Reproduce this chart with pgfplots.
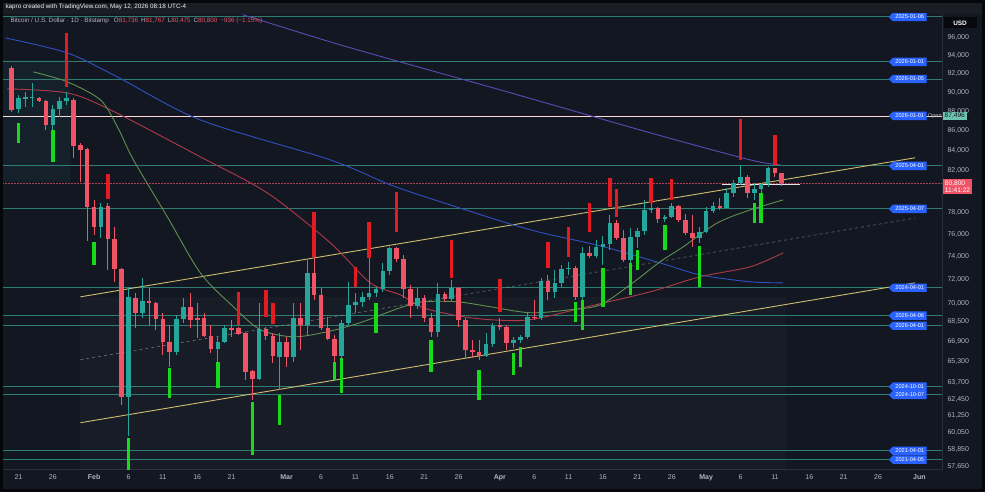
\documentclass[border=0pt]{standalone}
\usepackage{pgfplots}
\pgfplotsset{compat=1.18}
\usepackage{pgfplotstable}
\usepackage{fontspec}
\setmainfont{Liberation Sans}
\usetikzlibrary{shapes.symbols}

\definecolor{bg}{HTML}{131722}
\definecolor{hdr}{HTML}{1A1D24}
\definecolor{up}{HTML}{26A69A}
\definecolor{dn}{HTML}{EF5365}
\definecolor{mkred}{HTML}{E31B23}
\definecolor{mkgreen}{HTML}{1AD81A}
\definecolor{lvl}{HTML}{2E7D72}
\definecolor{chan}{HTML}{CDBE70}
\definecolor{mablue}{HTML}{3050C0}
\definecolor{mapurple}{HTML}{5B4BB5}
\definecolor{mared}{HTML}{B03A4A}
\definecolor{magreen}{HTML}{5E9150}
\definecolor{txt}{HTML}{B2B5BE}
\definecolor{tagblue}{HTML}{2962FF}
\definecolor{mint}{HTML}{6CC5B0}
\definecolor{axc}{HTML}{2A2E39}

\pgfplotstableread{
d O H L C
20 88230 89710 87820 89390
21 89300 90040 88440 89450
22 89390 91000 88440 89500
25 86570 88650 86060 88230
26 88230 89500 87400 89070
27 89070 90050 88650 89400
32 76680 78900 75690 78530
36 62650 71400 59810 70560
38 69230 72170 68820 70220
43 66090 69070 65860 68740
44 68740 70470 68420 69730
49 66330 67280 65310 66880
50 66880 68260 66800 68010
55 64010 70060 63930 67930
58 65710 67600 63180 66880
60 65710 70060 65310 68820
62 68260 73730 67440 72600
67 65780 68660 65630 68420
68 68420 71830 68260 69890
69 69890 70900 69230 70140
70 70140 70980 69730 70560
71 70560 73900 70310 70900
72 70900 71400 70560 71230
73 71230 73470 70980 72770
74 72770 74880 72430 74790
78 69810 71320 69560 70480
81 67690 71740 67280 70810
83 70390 72000 70140 71320
88 65780 67600 65710 66720
89 66720 68420 66480 68170
92 66800 67280 66410 67040
93 67040 67440 66800 67280
94 67280 69230 67120 68910
96 68820 72170 68660 71910
98 70980 72860 70480 71740
99 71740 73300 71400 72950
100 72950 73560 72430 73030
102 70560 74880 70310 74350
104 74080 75510 73910 74880
105 74880 75870 73300 75150
106 75150 77780 74610 77040
109 73730 76590 73470 75780
110 75780 76590 74790 76320
111 76320 79180 75960 78250
112 78250 79180 77970 78440
114 77410 77780 77140 77600
115 77600 78900 77500 78620
119 75690 76680 75240 76230
120 76230 78530 76140 78160
121 78160 78990 77970 78620
123 78440 80320 78440 79850
124 79850 81090 79460 80800
125 80800 82550 80610 81380
127 79850 80800 79180 80230
128 80230 80800 79850 80700
129 80700 82350 80420 82250
}\upcandles

\pgfplotstableread{
d O H L C
19 92640 92860 87920 88130
23 89420 89500 88970 89070
24 89070 89180 86060 86570
28 89180 89390 83240 84430
29 84540 84740 80900 84030
30 84130 84230 75420 78530
31 78530 79180 75960 76680
33 78620 78900 72860 75600
34 75600 76680 71830 72950
35 72950 73040 62060 62650
37 70460 70900 68000 69230
39 70220 71320 68260 70060
40 70060 70140 67850 68740
41 68740 69230 65860 66880
42 66880 68260 64930 66090
45 69730 70900 68010 68660
46 68820 70060 67200 68660
47 68820 69230 67280 67360
48 67360 68260 66020 66330
51 68010 68660 67280 67850
52 68010 68090 67440 67520
53 67600 67690 63930 64550
54 64620 64700 62430 64010
56 67930 68090 67040 67360
57 67360 67600 65240 65780
59 66880 67280 64930 65710
61 68820 70060 66250 68260
63 72600 74000 70310 70730
64 70730 71320 67850 68010
65 68010 68910 67040 67120
66 67120 67440 65310 65780
75 74790 74880 73560 73820
76 73820 74170 70480 71230
77 71230 71570 68820 69810
79 70480 70730 68500 68820
80 68820 69230 67280 67690
82 70810 70980 70140 70390
84 71320 71400 68090 68660
85 68660 68820 65630 66250
86 66250 67040 65630 66090
87 66090 67040 65470 65780
90 68260 68820 67850 68090
91 68090 68260 66250 66800
95 68910 70310 68660 68820
97 71910 72430 70310 70980
101 73030 73210 70310 70560
103 74350 74970 73910 74080
107 77040 77320 75510 75690
108 75690 76410 73560 73730
113 78440 78530 77040 77410
116 78620 78720 77140 77320
117 77320 77880 75960 76140
118 76140 77780 74880 75690
122 78620 79370 78250 78440
126 81380 81570 79370 79850
130 82250 82250 81380 81736
131 81736 81767 80475 80800
}\downcandles

\pgfplotstableread{
d lo hi
27 90570 96570
33 79270 81670
52 68260 70980
56 68910 71150
57 68340 70060
63 74000 78060
69 71400 73120
71 73900 77140
75 76230 79940
83 72170 75510
90 69320 72090
97 73030 75330
100 74000 76680
103 76230 78900
106 78530 81280
107 77600 80230
112 78900 81280
115 79180 81190
125 83040 87180
130 82550 85550
}\redmarks

\pgfplotstableread{
d lo hi
20 84740 86770
25 82840 86060
31 73290 75330
36 57230 59670
42 62580 64850
49 63330 65310
54 58480 62280
58 60600 62800
66 63930 65310
67 62950 65630
72 67600 70060
80 64550 67040
87 62430 64700
92 64320 66010
93 64930 66480
101 68500 70140
102 67850 70310
105 69730 73030
109 70730 73470
110 72860 74610
114 74610 76860
119 71400 74970
127 77040 78900
128 77040 79850
}\greenmarks

% build "(d,lo) (d,hi) (d,nan)" segment lists from a table
\newcommand{\buildsegs}[4]{%
  \pgfplotstablegetrowsof{#1}%
  \pgfmathtruncatemacro{\nrows}{\pgfplotsretval-1}%
  \gdef#4{}%
  \pgfplotsforeachungrouped \i in {0,...,\nrows}{%
    \pgfplotstablegetelem{\i}{d}\of{#1}\let\vd\pgfplotsretval
    \pgfplotstablegetelem{\i}{#2}\of{#1}\let\va\pgfplotsretval
    \pgfplotstablegetelem{\i}{#3}\of{#1}\let\vb\pgfplotsretval
    \xdef#4{#4 (\vd,\va) (\vd,\vb) (\vd,nan)}%
  }%
}

\tikzset{tag/.style={signal, signal to=west, fill=tagblue, text=white,
  font=\fontsize{5.6}{6}\selectfont, inner xsep=2.6pt, inner ysep=1.4pt,
  anchor=east, minimum height=8.4pt}}

\begin{document}
\begin{tikzpicture}
\buildsegs{\upcandles}{L}{H}{\wickup}
\buildsegs{\downcandles}{L}{H}{\wickdn}
\buildsegs{\upcandles}{O}{C}{\bodyup}
\buildsegs{\downcandles}{O}{C}{\bodydn}
\buildsegs{\redmarks}{lo}{hi}{\segred}
\buildsegs{\greenmarks}{lo}{hi}{\seggreen}
\fill[bg] (0pt,0pt) rectangle (985pt,492pt);
\fill[hdr] (0pt,478pt) rectangle (985pt,492pt);
\begin{axis}[
  at={(0pt,22pt)}, anchor=south west, scale only axis,
  width=942pt, height=456pt,
  xmin=17.38, xmax=154.3,
  ymode=log, ymin=57440, ymax=98790,
  axis x line*=bottom, axis y line*=right,
  axis line style={draw=axc, line width=0.8pt},
  major tick length=0pt, minor tick length=0pt,
  unbounded coords=jump,
  xtick={20,25,31,36,41,46,51,59,64,69,74,79,84,90,95,100,105,110,115,120,125,130,135,140,145,151},
  xticklabels={21,26,\textbf{Feb},6,11,16,21,\textbf{Mar},6,11,16,21,26,\textbf{Apr},6,11,16,21,26,\textbf{May},6,11,16,21,26,\textbf{Jun}},
  ytick={57650,58850,60050,61250,62450,63700,65300,66900,68500,70000,72000,74000,76000,78000,82000,84000,86000,88000,90000,92000,94000,96000},
  yticklabels={{57,650},{58,850},{60,050},{61,250},{62,450},{63,700},{65,300},{66,900},{68,500},{70,000},{72,000},{74,000},{76,000},{78,000},{82,000},{84,000},{86,000},{88,000},{90,000},{92,000},{94,000},{96,000}},
  ticklabel style={text=txt, font=\fontsize{7.0}{8}\selectfont},
  xticklabel style={yshift=-1.5pt},
  yticklabel style={xshift=2pt},
  every axis plot/.append style={forget plot},
]
% shaded regions
\addplot[fill=white, fill opacity=0.025, draw=none] coordinates {(29.0,57440) (131.6,57440) (131.6,70560) (29.0,70560)};
\addplot[fill=lvl, fill opacity=0.10, draw=none] coordinates {(17.38,80900) (27.56,80900) (27.56,93520) (17.38,93520)};
% horizontal levels
\addplot[lvl, line width=0.9pt] coordinates {(17.38,98430) (154.3,98430)};
\addplot[lvl, line width=0.9pt] coordinates {(17.38,93300) (154.3,93300)};
\addplot[lvl, line width=0.9pt] coordinates {(17.38,91430) (154.3,91430)};
\addplot[lvl, line width=0.9pt] coordinates {(17.38,82445) (154.3,82445)};
\addplot[lvl, line width=0.9pt] coordinates {(17.38,78350) (154.3,78350)};
\addplot[lvl, line width=0.9pt] coordinates {(17.38,71320) (154.3,71320)};
\addplot[lvl, line width=0.9pt] coordinates {(17.38,68990) (154.3,68990)};
\addplot[lvl, line width=0.9pt] coordinates {(17.38,68170) (154.3,68170)};
\addplot[lvl, line width=0.9pt] coordinates {(17.38,63400) (154.3,63400)};
\addplot[lvl, line width=0.9pt] coordinates {(17.38,62790) (154.3,62790)};
\addplot[lvl, line width=0.9pt] coordinates {(17.38,58750) (154.3,58750)};
\addplot[lvl, line width=0.9pt] coordinates {(17.38,58130) (154.3,58130)};
\addplot[white!85!red, line width=0.8pt] coordinates {(17.38,87496) (154.3,87496)};
\addplot[dn, densely dotted, line width=0.5pt, opacity=0.7] coordinates {(17.38,80800) (154.3,80800)};
% channel
\addplot[chan, line width=0.9pt] coordinates {(29.01,70560) (150.38,83240)};
\addplot[chan, line width=0.9pt] coordinates {(29.01,60740) (150.38,71740)};
\addplot[gray!70, dashed, line width=0.6pt, opacity=0.6] coordinates {(29.01,65470) (150.38,77500)};
% moving averages
\addplot[mapurple, line width=0.9pt, smooth] coordinates {(52.6,98700) (65.35,95550) (75.52,93300) (90.06,90250) (111.9,85750) (126.4,83040) (130.8,82550)};
\addplot[mablue, line width=0.9pt, smooth] coordinates {(18.11,96000) (27.12,94300) (34.39,91650) (46.45,87080) (65.35,83040) (74.07,80610) (82.79,78720) (94.42,76410) (104.6,74970) (113.3,73470) (119.1,72430) (126.4,71830) (131.2,71740)};
\addplot[mared, line width=0.9pt, smooth] coordinates {(18.4,90360) (27.12,89920) (33.37,88130) (46.45,83340) (56.19,79850) (65.35,75240) (71.16,71740) (75.52,70730) (78.87,69650) (83.81,68990) (88.6,68660) (94.42,68660) (102.7,69730) (111.9,70980) (119.1,72260) (126.4,73120) (131.2,74350)};
\addplot[magreen, line width=0.9pt, smooth] coordinates {(22.18,92200) (27.12,91110) (31.92,89180) (34.39,86370) (36.72,83040) (41.66,77600) (46.45,72600) (51.25,69730) (55.17,67850) (59.97,67280) (64.91,67690) (69.71,68420) (75.52,69650) (78.87,70140) (83.81,70140) (88.6,69730) (94.42,69230) (100.2,69480) (104.6,69890) (108.95,71570) (113.3,73560) (116.66,74880) (121.6,77040) (126.4,78250) (131.2,79180)};
\addplot[white!80!gray, line width=0.8pt] coordinates {(122.3,80610) (133.7,80610)};
% candles and signal markers
\edef\temp{%
\noexpand\addplot[up, line width=1pt] coordinates {\wickup};
\noexpand\addplot[dn, line width=1pt] coordinates {\wickdn};
\noexpand\addplot[up, line width=4.6pt] coordinates {\bodyup};
\noexpand\addplot[dn, line width=4.6pt] coordinates {\bodydn};
\noexpand\addplot[mkred, line width=3.4pt] coordinates {\segred};
\noexpand\addplot[mkgreen, line width=3.4pt] coordinates {\seggreen};
}\temp
% level tags
\node[anchor=west, text=txt, font=\fontsize{5.6}{6}\selectfont, inner sep=0.5pt] at (axis cs:152.15,87496) {Open};
\node[tag] at (axis cs:152.1,98430) {2025-01-06};
\node[tag] at (axis cs:152.1,93300) {2026-01-01};
\node[tag] at (axis cs:152.1,91430) {2026-01-05};
\node[tag] at (axis cs:152.1,87496) {2026-01-01};
\node[tag] at (axis cs:152.1,82445) {2025-04-01};
\node[tag] at (axis cs:152.1,78350) {2025-04-07};
\node[tag] at (axis cs:152.1,71320) {2024-04-01};
\node[tag] at (axis cs:152.1,68990) {2026-04-06};
\node[tag] at (axis cs:152.1,68170) {2026-04-01};
\node[tag] at (axis cs:152.1,63400) {2024-10-01};
\node[tag] at (axis cs:152.1,62790) {2024-10-07};
\node[tag] at (axis cs:152.1,58750) {2021-04-01};
\node[tag] at (axis cs:152.1,58130) {2021-04-05};
\coordinate (p87) at (axis cs:154.3,87496);
\coordinate (p80) at (axis cs:154.3,80800);
\end{axis}
% price-scale boxes
\node[anchor=west, fill=mint, text=bg, font=\fontsize{6.6}{7}\selectfont, inner xsep=2pt, inner ysep=1.6pt] at ([xshift=0.5pt]p87) {87,496};
\node[anchor=west, fill=dn, text=white, font=\fontsize{6.6}{7.4}\selectfont, inner xsep=2.2pt, inner ysep=1.5pt, align=left] at ([xshift=0.5pt,yshift=-4pt]p80) {80,800\\11:41:22};
\node[fill=black!60!bg, text=white, font=\bfseries\fontsize{6.4}{7}\selectfont, minimum width=33pt, minimum height=11pt, inner sep=1pt] at (960pt,469pt) {USD};
% header
\node[anchor=west, text=white!85!txt, font=\fontsize{6.3}{7}\selectfont, inner sep=0pt] at (5pt,485pt) {kapro created with TradingView.com, May 12, 2026 08:18 UTC-4};
\node[anchor=west, text=txt, font=\fontsize{6.3}{7}\selectfont, inner sep=0pt] at (10pt,471pt) {Bitcoin / U.S. Dollar · 1D · Bitstamp\hspace{5pt}O\textcolor{dn}{81,736}\hspace{3pt}H\textcolor{dn}{81,767}\hspace{3pt}L\textcolor{dn}{80,475}\hspace{3pt}C\textcolor{dn}{80,800}\hspace{3pt}\textcolor{dn}{−936 (−1.15\%)}};
% outer frame
\draw[black!70!bg, line width=3pt] (1.5pt,1.5pt) rectangle (983.5pt,490.5pt);
\end{tikzpicture}
\end{document}
